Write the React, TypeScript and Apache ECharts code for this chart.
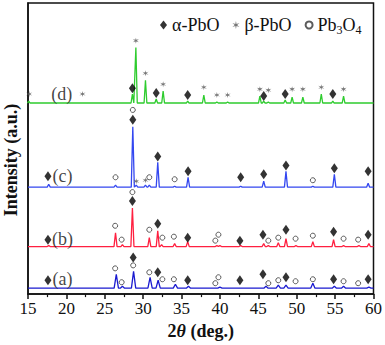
import React, { useEffect, useRef } from "react";
import * as echarts from "echarts";

// Baselines (vertical offsets, arbitrary units) of the four stacked patterns
const offsetA = 6;
const offsetB = 48;
const offsetC = 108;
const offsetD = 193;

// Peaks: [2θ, height above baseline]
const peaksD = [[15.1, 2], [28.6, 9], [29.05, 56], [30.3, 23], [31.7, 4], [32.6, 12], [35.8, 2], [37.9, 8], [39.6, 1], [41.0, 1], [45.2, 7], [45.7, 2], [46.3, 1], [48.5, 3], [49.4, 6], [50.8, 6], [53.2, 9], [54.7, 2], [56.1, 7]];
const peaksC = [[17.7, 3], [26.4, 2], [28.65, 61], [29.1, 2], [30.3, 2], [30.8, 2], [31.9, 25], [34.1, 1], [35.85, 10], [42.7, 1], [45.7, 6], [48.6, 16], [52.1, 1], [54.9, 13], [59.3, 4]];
const peaksB = [[17.7, 1], [26.4, 14], [27.3, 2], [28.6, 39], [30.8, 9], [31.9, 16], [32.4, 2], [34.1, 3], [35.8, 5], [39.6, 1], [40.0, 1], [42.7, 1], [45.7, 3], [46.3, 1], [47.6, 4], [48.6, 8], [49.9, 1], [52.1, 5], [54.8, 7], [56.1, 1], [58.1, 1], [59.4, 3]];
const peaksA = [[26.5, 14], [27.3, 2], [28.75, 17], [30.9, 11], [31.95, 8], [34.2, 4], [35.9, 2], [40.0, 1], [46.0, 2], [47.6, 3], [48.6, 3], [52.1, 5], [54.9, 2], [56.1, 2], [59.4, 1]];

// Phase markers: [2θ, vertical position]
const alphaD = [[28.6, 208], [31.7, 203], [35.8, 201], [45.7, 200], [48.5, 202], [54.7, 202]];
const betaD = [[15.15, 202], [22.1, 202], [29.05, 256], [30.3, 223], [32.6, 212], [37.9, 209], [39.6, 201], [41.0, 201], [45.2, 207], [46.3, 206], [49.4, 207], [50.8, 207], [53.2, 209], [56.1, 207]];
const alphaC = [[17.6, 119], [28.65, 176], [31.9, 139], [35.85, 124], [42.7, 118], [45.7, 121], [48.6, 130], [54.9, 127], [59.3, 124]];
const pb3o4C = [[26.4, 118], [28.65, 186], [30.8, 118], [34.1, 116], [52.1, 115]];
const betaC = [[29.1, 114], [30.3, 115]];
const alphaB = [[17.6, 55], [28.6, 94], [31.9, 71], [35.8, 57], [42.6, 54], [45.6, 60], [48.6, 65], [54.8, 63], [59.3, 60]];
const pb3o4B = [[26.35, 69], [27.2, 55], [28.6, 103], [30.8, 65], [32.5, 57], [34.0, 58], [39.4, 54], [39.8, 60], [46.3, 54], [47.6, 57], [49.85, 56], [52.1, 59], [56.1, 56], [58.0, 55]];
const alphaA = [[17.6, 14], [28.7, 37], [31.9, 22], [35.8, 14], [42.6, 14], [45.6, 20], [48.6, 17], [54.8, 15], [59.3, 15]];
const pb3o4A = [[26.35, 26], [27.2, 12], [28.7, 29], [30.8, 22], [32.5, 15], [34.0, 15], [39.4, 11], [39.8, 17], [46.3, 11], [47.6, 14], [49.85, 13], [52.1, 15], [56.1, 13], [58.0, 11]];

// Trace labels: [2θ, vertical position, text]
const traceLabels = [[19.5, 15, "(a)"], [19.5, 56, "(b)"], [19.5, 119, "(c)"], [19.4, 202, "(d)"]];

const xTicks = [15, 20, 25, 30, 35, 40, 45, 50, 55, 60];

function trace(peaks: number[][], base: number, w: number) {
  const pts: number[][] = [[xTicks[0], base]];
  peaks.forEach(([p, h]) => {
    pts.push([p - w, base], [p, base + h], [p + w, base]);
  });
  pts.push([xTicks[xTicks.length - 1], base]);
  pts.sort((a, b) => a[0] - b[0]);
  return pts;
}

function starPath() {
  const pts: string[] = [];
  for (let k = 0; k < 12; k++) {
    const a = (-90 + k * 30) * Math.PI / 180;
    const r = k % 2 === 0 ? 10 : 3;
    pts.push((k === 0 ? "M" : "L") + (r * Math.cos(a)).toFixed(2) + " " + (r * Math.sin(a)).toFixed(2));
  }
  return "path://" + pts.join(" ") + " Z";
}

const SERIF = "'Liberation Serif', 'Times New Roman', serif";

export default function App() {
  const ref = useRef<HTMLDivElement>(null);
  useEffect(() => {
    if (!ref.current) return;
    const chart = echarts.init(ref.current, null, { renderer: "svg" });
    const lineSeries = (name: string, data: number[][], color: string) => ({
      name,
      type: "line",
      data,
      showSymbol: false,
      symbol: "none",
      lineStyle: { color, width: 1.3 },
      z: 2,
    });
    chart.setOption({
      animation: false,
      backgroundColor: "#fff",
      grid: { left: 28, right: 11, top: 3, bottom: 48, show: true, borderColor: "#111", borderWidth: 1.5, backgroundColor: "transparent" },
      legend: {
        left: 155,
        top: 11,
        itemGap: 13,
        itemWidth: 7,
        itemHeight: 9,
        selectedMode: false,
        data: [
          { name: "α-PbO" },
          { name: "β-PbO" },
          { name: "Pb3O4" },
        ],
        formatter: (n: string) => (n === "Pb3O4" ? "Pb{s|3}O{s|4}" : n),
        textStyle: {
          fontFamily: SERIF,
          fontSize: 18,
          color: "#111",
          rich: { s: { fontFamily: SERIF, fontSize: 12, color: "#111", verticalAlign: "bottom", padding: [10, 0, 0, 0] } },
        },
      },
      xAxis: {
        type: "value",
        min: 15,
        max: 60,
        interval: 5,
        name: "2{i|θ} (deg.)",
        nameLocation: "middle",
        nameGap: 22,
        nameTextStyle: {
          fontFamily: SERIF,
          fontSize: 18,
          fontWeight: "bold",
          color: "#111",
          rich: { i: { fontFamily: SERIF, fontSize: 18, fontWeight: "bold", fontStyle: "italic", color: "#111" } },
        },
        axisLine: { lineStyle: { color: "#111", width: 1.5 } },
        axisTick: { show: true, inside: false, length: 5, lineStyle: { color: "#111", width: 1.5 } },
        minorTick: { show: true, splitNumber: 2, length: 3, lineStyle: { color: "#111", width: 1.2 } },
        axisLabel: { fontFamily: SERIF, fontSize: 17, color: "#111", margin: 6 },
        splitLine: { show: false },
      },
      yAxis: {
        type: "value",
        min: 0,
        max: 294,
        axisLine: { show: true, lineStyle: { color: "#111", width: 1.5 } },
        axisTick: { show: false },
        axisLabel: { show: false },
        splitLine: { show: false },
      },
      graphic: [
        {
          type: "text",
          x: 11,
          y: 160,
          rotation: Math.PI / 2,
          style: {
            text: "Intensity (a.u.)",
            fontFamily: SERIF,
            fontSize: 18,
            fontWeight: "bold",
            fill: "#111",
            align: "center",
            verticalAlign: "middle",
          },
        },
      ],
      series: [
        lineSeries("(a)", trace(peaksA, offsetA, 0.28), "#1a1ad0"),
        lineSeries("(b)", trace(peaksB, offsetB, 0.2), "#ff2040"),
        lineSeries("(c)", trace(peaksC, offsetC, 0.2), "#3347f0"),
        lineSeries("(d)", trace(peaksD, offsetD, 0.18), "#2ecc2e"),
        {
          name: "α-PbO",
          type: "scatter",
          symbol: "diamond",
          symbolSize: [7, 10],
          itemStyle: { color: "#000" },
          data: [...alphaA, ...alphaB, ...alphaC, ...alphaD],
          z: 5,
        },
        {
          name: "β-PbO",
          type: "scatter",
          symbol: starPath(),
          symbolSize: 6,
          clip: false,
          itemStyle: { color: "#555" },
          data: [...betaC, ...betaD],
          z: 5,
        },
        {
          name: "Pb3O4",
          type: "scatter",
          symbol: "circle",
          symbolSize: 5,
          itemStyle: { color: "#fff", borderColor: "#333", borderWidth: 1 },
          data: [...pb3o4A, ...pb3o4B, ...pb3o4C],
          z: 5,
        },
        {
          name: "labels",
          type: "scatter",
          symbolSize: 0,
          data: traceLabels.map((d) => ({ value: [d[0], d[1]], name: d[2] })),
          label: {
            show: true,
            position: "inside",
            formatter: (p: any) => p.name,
            fontFamily: SERIF,
            fontSize: 18,
            color: "#111",
          },
          z: 6,
        },
      ],
    });
    return () => chart.dispose();
  }, []);
  return <div ref={ref} style={{ width: 385, height: 345, position: "absolute", left: 0, top: 0 }} />;
}
